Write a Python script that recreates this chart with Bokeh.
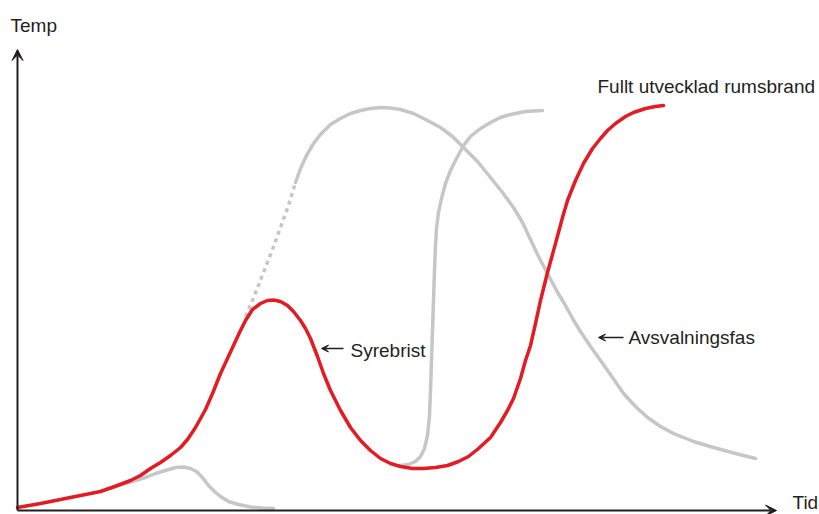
from bokeh.plotting import figure
from bokeh.models import Range1d, Arrow, VeeHead, ColumnDataSource
from bokeh.core.properties import value
from bokeh.embed import file_html
from bokeh.resources import INLINE

# Curves (x = time, y = temperature, arbitrary units)
red_x = [0, 23, 43, 63, 83, 100, 113, 123, 133, 143, 153, 163, 170, 178, 188, 195, 203, 210, 216, 222,
         228, 235, 243, 250, 256, 263, 270, 276, 283, 288, 293, 300, 306, 313, 323, 333, 343, 353, 363,
         373, 383, 395, 406, 418, 430, 441, 451, 461, 473, 483, 490, 496, 503, 508, 513, 518, 523, 530,
         538, 545, 550, 558, 566, 575, 583, 590, 598, 608, 616, 628, 638, 646]
red_y = [3, 7, 11, 15, 19, 25, 30, 35, 42, 48, 55, 63, 71, 83, 101, 117, 137, 152, 165, 178,
         190, 201, 207, 210, 210.5, 209, 205, 199, 190, 182, 172, 154, 137, 120, 100, 83, 70, 60, 52,
         47, 44, 42, 42, 43, 45, 49, 54, 62, 73, 88, 100, 112, 132, 150, 165, 187, 210, 238,
         267, 293, 310, 330, 347, 362, 372, 380, 387, 394, 398, 402, 404, 405]

bump_x = [93, 100, 108, 118, 128, 138, 148, 158, 166, 173, 179, 185, 191, 197, 203, 211, 221, 233, 245, 256]
bump_y = [22, 25, 27, 30, 33, 37, 40, 43, 43.5, 42, 39, 33, 25, 19, 14, 9, 6, 3.5, 2.5, 2]

dot_x = [228, 237, 246, 255, 263, 271, 278]
dot_y = [194, 215, 238, 261, 283, 305, 328]

cool_x = [278, 283, 289, 296, 303, 313, 323, 333, 343, 353, 363, 373, 383, 396, 408, 423, 435, 446, 460,
          473, 485, 496, 505, 513, 521, 530, 539, 548, 555, 563, 573, 583, 595, 606, 618, 630, 643, 656,
          676, 696, 718, 738]
cool_y = [328, 342, 355, 367, 376, 386, 392, 397, 400, 402, 403, 402.5, 401, 397, 391, 383, 374, 363, 349,
          333, 318, 303, 288, 271, 254, 237, 220, 205, 192, 179, 164, 150, 133, 117, 104, 93, 84, 77,
          69, 63, 57, 52]

flash_x = [383, 391, 398, 403, 407, 410, 412, 413, 414, 415, 416, 417, 418, 419, 421, 424, 428, 433, 439,
           446, 453, 463, 473, 483, 493, 508, 525]
flash_y = [45, 46, 49, 54, 62, 75, 95, 120, 150, 180, 210, 240, 265, 282, 298, 312, 327, 340, 352,
           365, 374, 382, 388, 393, 396, 399, 400]

# Labels (anchored at their vertical middle)
label_text = ["Temp", "Tid", "Fullt utvecklad rumsbrand", "Syrebrist", "Avsvalningsfas"]
label_x = [-7, 775, 580, 333, 611]
label_y = [485, 8, 424, 160, 173]

# Pointer arrows (start at text side, end pointing at curve)
ptr_x0 = [326, 606]
ptr_x1 = [304, 581]
ptr_y = [162, 173]

AX = "#231f20"
RED = "#e31b23"
GREY = "#c6c6c6"
FONT = "Liberation Sans"

p = figure(width=819, height=514, output_backend="svg", toolbar_location=None,
           x_range=Range1d(-17, 802), y_range=Range1d(-4, 510),
           min_border=0, outline_line_color=None)
p.axis.visible = False
p.grid.visible = False

# axes with arrowheads
p.add_layout(Arrow(end=VeeHead(size=11, fill_color=AX, line_color=AX, line_width=1),
                   x_start=0, y_start=0, x_end=0, y_end=461, line_color=AX, line_width=2))
p.add_layout(Arrow(end=VeeHead(size=11, fill_color=AX, line_color=AX, line_width=1),
                   x_start=0, y_start=0, x_end=759, y_end=0, line_color=AX, line_width=2))

p.line(bump_x, bump_y, line_color=GREY, line_width=3.5, line_cap="round", line_join="round")
p.line(dot_x, dot_y, line_color=GREY, line_width=3.5, line_dash="4 4")
p.line(cool_x, cool_y, line_color=GREY, line_width=3.5, line_cap="round", line_join="round")
p.line(flash_x, flash_y, line_color=GREY, line_width=3.5, line_cap="round", line_join="round")
p.line(red_x, red_y, line_color=RED, line_width=3.5, line_cap="round", line_join="round")

for x0, x1, y in zip(ptr_x0, ptr_x1, ptr_y):
    p.add_layout(Arrow(end=VeeHead(size=7, fill_color=AX, line_color=AX, line_width=1),
                       x_start=x0, y_start=y, x_end=x1, y_end=y, line_color=AX, line_width=1.3))

src = ColumnDataSource(dict(x=label_x, y=label_y, t=label_text))
p.text(x="x", y="y", text="t", source=src, text_font=value(FONT), text_font_size="19px",
       text_color=AX, text_baseline="middle", text_align="left")

open("out.html", "w").write(file_html(p, INLINE))
